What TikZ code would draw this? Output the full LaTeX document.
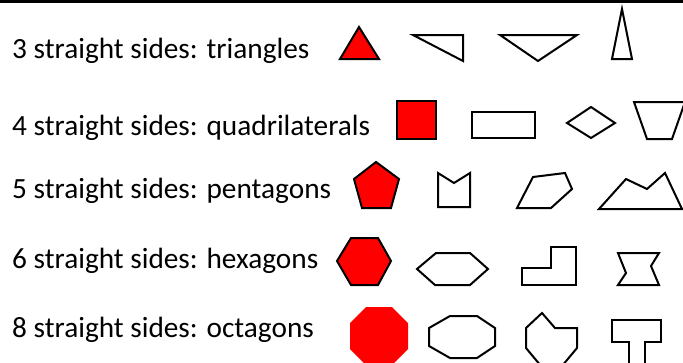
\documentclass[tikz,border=0pt]{standalone}
\usepackage{fontspec}
\setmainfont{Carlito}
\tikzset{
  outline/.style={draw=black, line width=2pt, line join=miter, fill=white},
  redshape/.style={draw=black, line width=2pt, line join=miter, fill=red},
  rowtext/.style={anchor=base west, inner sep=0pt, font=\fontsize{29.3}{34}\selectfont}
}
\begin{document}
\begin{tikzpicture}[x=1pt, y=-1pt]
    \useasboundingbox (0,0) rectangle (683,362);
    \begin{scope}
    \clip (0,0) rectangle (683,362);

    % Top rule
    \draw[line width=3pt] (0,1.5) -- (683,1.5);

    % Row labels
    \node[rowtext] (tri) at (12,58) {3 straight sides: triangles};
    \node[rowtext] (quad) at (12,135) {4 straight sides: quadrilaterals};
    \node[rowtext] (pent) at (12,198) {5 straight sides: pentagons};
    \node[rowtext] (hex) at (12,268) {6 straight sides: hexagons};
    \node[rowtext] (oct) at (12,337) {8 straight sides: octagons};

    % Triangles
    \draw[redshape] (340,59) -- (359,27) -- (379,59) -- cycle;
    \draw[outline] (413,35) -- (463,35) -- (463,61) -- cycle;
    \draw[outline] (500,35) -- (577,35) -- (538,61) -- cycle;
    \draw[outline] (622,9) -- (632,59) -- (612,59) -- cycle;

    % Quadrilaterals
    \draw[redshape] (397,101) rectangle (436,139);
    \draw[outline] (472,112) rectangle (535,138);
    \draw[outline] (567,123) -- (591,107) -- (615,123) -- (591,138) -- cycle;
    \draw[outline] (634,102) -- (685,102) -- (672,139) -- (647,139) -- cycle;

    % Pentagons
    \draw[redshape] (376,162) -- (399,179) -- (391,208) -- (362,208) -- (354,179) -- cycle;
    \draw[outline] (438,173) -- (454,183) -- (470,173) -- (470,207) -- (438,207) -- cycle;
    \draw[outline] (533,177) -- (565,173) -- (572,189) -- (551,208) -- (517,208) -- cycle;
    \draw[outline] (599,209) -- (626,179) -- (647,189) -- (665,173) -- (682,209) -- cycle;

    % Hexagons
    \draw[redshape] (351,238) -- (378,238) -- (391,261) -- (378,285) -- (351,285) -- (337,261) -- cycle;
    \draw[outline] (436,253) -- (470,253) -- (488,269) -- (470,285) -- (435,285) -- (417,269) -- cycle;
    \draw[outline] (522,268) -- (551,268) -- (551,247) -- (576,247) -- (576,285) -- (522,285) -- cycle;
    \draw[outline] (618,253) -- (659,253) -- (651,266) -- (659,285) -- (618,285) -- (626,273) -- cycle;

    % Octagons
    \fill[red] (366,307) -- (392,307) -- (408,323) -- (408,349) -- (392,365) -- (366,365) -- (350,349) -- (350,323) -- cycle;
    \draw[outline] (429,328) -- (450,316) -- (477,316) -- (495,328) -- (495,346) -- (477,358) -- (450,358) -- (429,346) -- cycle;
    \draw[outline] (542,313) -- (555,328) -- (577,328) -- (577,348) -- (562,366) -- (541,366) -- (526,348) -- (526,328) -- cycle;
    \draw[outline] (612,320) -- (661,320) -- (661,342) -- (645,342) -- (645,366) -- (629,366) -- (629,342) -- (612,342) -- cycle;
    \end{scope}
\end{tikzpicture}
\end{document}
